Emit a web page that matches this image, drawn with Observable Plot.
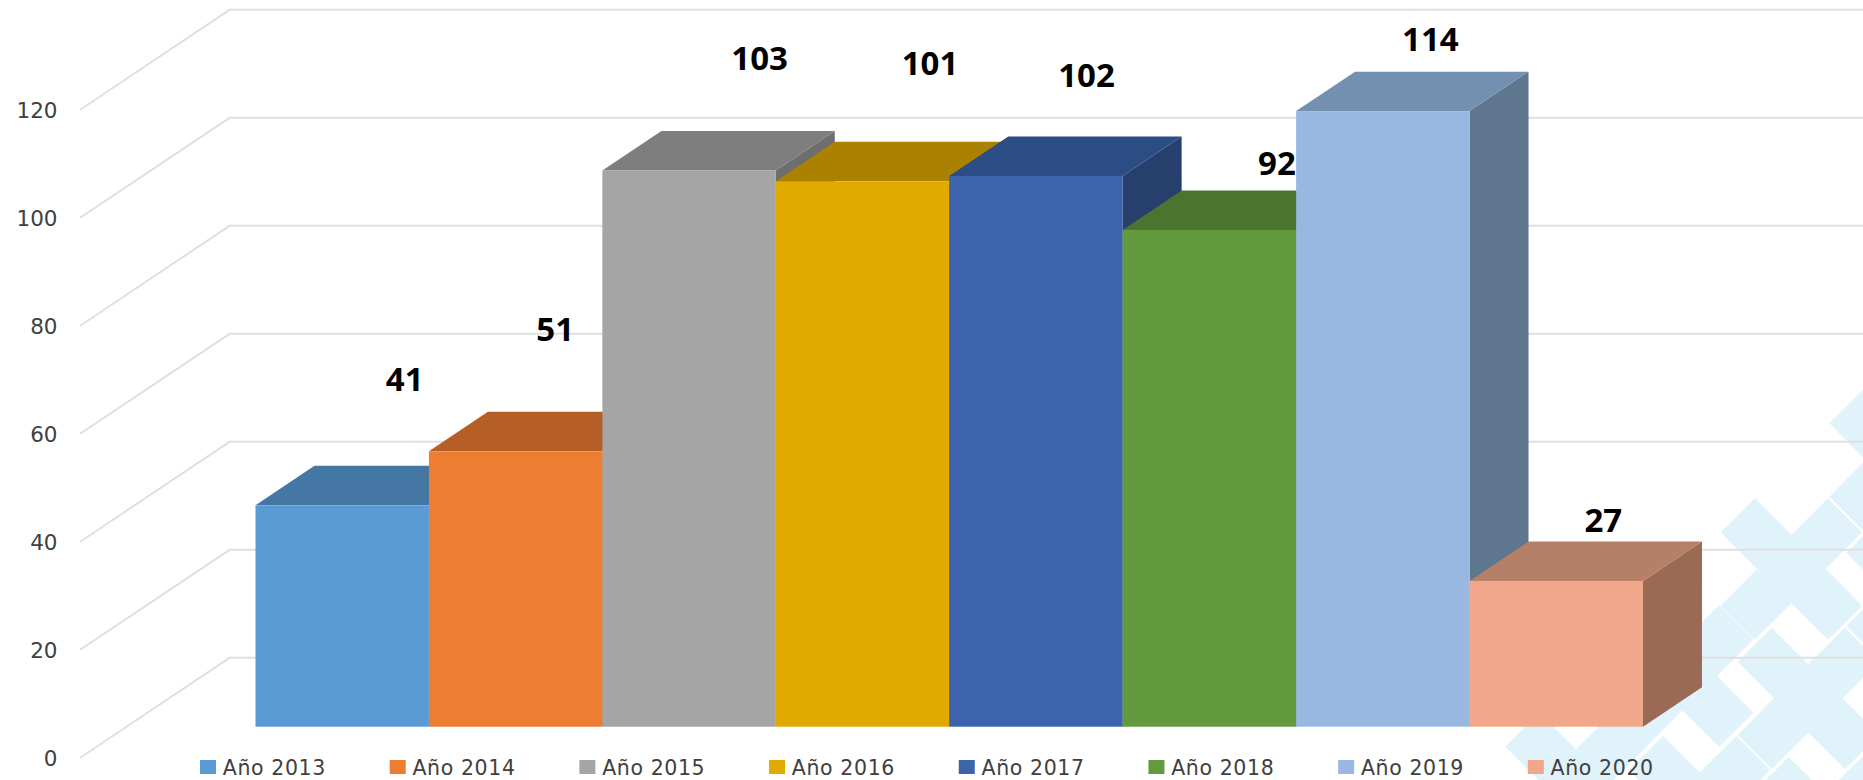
<!DOCTYPE html>
<html lang="es">
<head>
<meta charset="utf-8">
<title>Año 2013–2020</title>
<script src="https://cdn.jsdelivr.net/npm/d3@7"></script>
<script src="https://cdn.jsdelivr.net/npm/@observablehq/plot@0.6"></script>
<style>
  html, body { margin: 0; padding: 0; background: #fff; overflow: hidden; }
  svg { display: block; }
</style>
</head>
<body>
<div id="chart"></div>
<script>
// ---- data -------------------------------------------------------------
const categories = ["Año 2013","Año 2014","Año 2015","Año 2016","Año 2017","Año 2018","Año 2019","Año 2020"];
const values     = [41, 51, 103, 101, 102, 92, 114, 27];
const yTicks     = [0, 20, 40, 60, 80, 100, 120];

// ---- styles -----------------------------------------------------------
const frontColors = ["#5B9BD5","#ED7D31","#A5A5A5","#E2AA00","#3B64AD","#649A3E","#98B8E1","#F1A78A"];
const topColors   = ["#4577A4","#B55E25","#7E7E7E","#AA8100","#2C4C84","#4B742E","#7390B0","#B67F67"];
const sideColors  = ["#3E6A92","#A05321","#6E6E6E","#967100","#263F6D","#41652A","#5F768F","#9A6A55"];
const labelDx = [62, 39, 70, 67, 50, 67, 47, 46.5];
const labelDy = [-125, -121, -112, -117, -100, -66, -71, -60];

// ---- 3-D projection constants, in data units ---------------------------
const barBase = 5.61;       // bars stand this far up the floor
const depthX = 0.34, depthY = 7.31;   // bar depth
const wallX0 = -1.012, wallX1 = -0.153, wallX2 = 9.27, wallRise = 18.45;  // grid
const legendStart = -0.32, legendStep = 1.0937;

const bars = categories.map((name, i) => ({name, i, v: values[i], top: barBase + values[i]}));

// decorative tile pattern behind the chart (page background artwork, in pixels)
const tileCenters = [[1260,240],[934,567],[608,888],[288,1210],[1311,628],[985,955],[659,1280],[1362,1016],[1036,1343]];
const tileShape = [[-110,-212],[0,-103],[110,-212],[212,-110],[103,0],[212,110],[110,212],[0,103],[-110,212],[-212,110],[-103,0],[-212,-110]];
function tiles() {
  const g = d3.create("svg:g").attr("fill", "#E0F2FA");
  for (const [cx, cy] of tileCenters) {
    const pts = tileShape.map(([x, y]) => [1480 + (cx + x) / 3, 380 + (cy + y) / 3]);
    g.append("path").attr("d", "M" + pts.join("L") + "Z");
  }
  return g.node();
}

const gridLines = yTicks.flatMap(t => [
  {t, x: wallX0, y: t},
  {t, x: wallX1, y: t + wallRise},
  {t, x: wallX2, y: t + wallRise}
]);

const barMarks = bars.flatMap(b => {
  const {i, top} = b;
  return [
    Plot.areaY([
      {x: i + 1, y1: barBase, y2: top},
      {x: i + 1 + depthX, y1: barBase + depthY, y2: top + depthY}
    ], {x: "x", y1: "y1", y2: "y2", fill: sideColors[i]}),
    Plot.areaX([
      {y: top, x1: i, x2: i + 1},
      {y: top + depthY, x1: i + depthX, x2: i + 1 + depthX}
    ], {y: "y", x1: "x1", x2: "x2", fill: topColors[i]}),
    Plot.rect([b], {x1: i, x2: i + 1, y1: barBase, y2: top, fill: frontColors[i]})
  ];
});

const labelMarks = bars.map(b => Plot.text([b], {
  x: b.i + 0.5, y: b.top, text: d => String(d.v),
  dx: labelDx[b.i], dy: labelDy[b.i],
  fontSize: 33, fontWeight: 700, fill: "#000", fontFamily: "Open Sans"
}));

const legendMarks = [
  Plot.rect(bars, {
    x1: d => legendStart + d.i * legendStep,
    x2: d => legendStart + d.i * legendStep + 0.0923,
    y1: -0.56, y2: -3.15,
    fill: d => frontColors[d.i]
  }),
  Plot.text(bars, {
    x: d => legendStart + d.i * legendStep + 0.1286,
    y: -2.05, text: "name", textAnchor: "start",
    fontSize: 20.5, fill: "#404040", fontFamily: "DejaVu Sans",
    className: "legend-text"
  })
];

const chart = Plot.plot({
  width: 1863,
  height: 780,
  marginLeft: 66,
  marginRight: 0,
  marginTop: 0,
  marginBottom: 0,
  style: {fontFamily: "DejaVu Sans", background: "#fff", overflow: "hidden"},
  x: {type: "linear", domain: [0, 8], range: [255.5, 1643], axis: null},
  y: {type: "linear", domain: [0, 120], range: [757, 109], axis: null},
  marks: [
    tiles,
    Plot.line(gridLines, {x: "x", y: "y", z: "t", stroke: "#E0E0E0", strokeWidth: 2, curve: "linear"}),
    Plot.axisY(yTicks, {anchor: "left", tickSize: 0, tickPadding: 9, label: null, fontSize: 21.5, fontFamily: "DejaVu Sans", fill: "#404040", dy: 2}),
    ...barMarks,
    ...labelMarks,
    ...legendMarks
  ]
});
chart.querySelectorAll("g.legend-text text, text.legend-text").forEach(t => t.style.letterSpacing = "0.6px");
document.getElementById("chart").append(chart);
</script>
</body>
</html>
